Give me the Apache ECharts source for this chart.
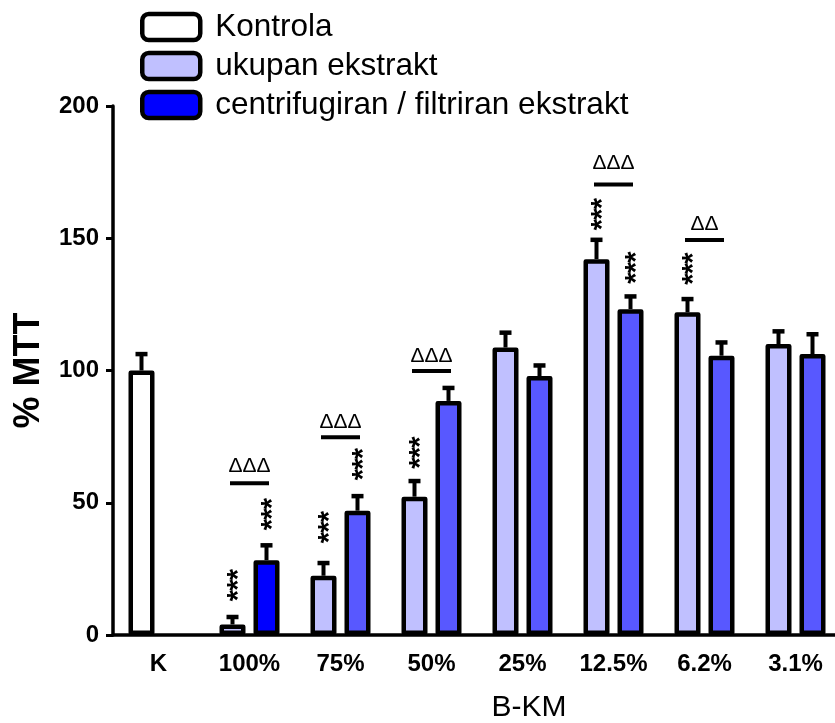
<!DOCTYPE html>
<html>
<head>
<meta charset="utf-8">
<script src="https://cdn.jsdelivr.net/npm/echarts@6/dist/echarts.min.js"></script>
<style>
html,body{margin:0;padding:0;background:#fff;}
#chart{width:835px;height:723px;}
</style>
</head>
<body>
<div id="chart"></div>
<script>
// ---- data ----
const categories = ['K', '100%', '75%', '50%', '25%', '12.5%', '6.2%', '3.1%'];
const seriesNames = ['Kontrola', 'ukupan ekstrakt', 'centrifugiran / filtriran ekstrakt'];
const kontrola    = [100, null, null, null, null, null, null, null];
const kontrolaErr = [6.3, null, null, null, null, null, null, null];
const ukupan      = [null, 4, 22.4, 52.3, 108.7, 142.1, 122, 110];
const ukupanErr   = [null, 2.9, 4.9, 6, 5.7, 7.4, 5.1, 4.9];
const centri      = [null, 28.3, 47, 88.5, 97.9, 123.2, 105.6, 106.2];
const centriErr   = [null, 5.7, 5.6, 5, 4.1, 4.9, 5.1, 7.6];
// significance marks (value position of the "***" stacks)
const starsUkupan = [null, 18.9, 40.8, 69, null, 159.1, 138.5, null];
const starsCentri = [null, 45.7, 64.6, null, null, 138.9, null, null];
const deltaLabels = ['', 'ΔΔΔ', 'ΔΔΔ', 'ΔΔΔ', '', 'ΔΔΔ', 'ΔΔ', ''];
const deltaLineY  = [null, 57.4, 74.8, 99.8, null, 170.3, 149.3, null];
const deltaTextY  = [null, 63.9, 80.6, 105.4, null, 178.3, 155.2, null];
const yTicks = {min: 0, max: 200, interval: 50};

// ---- style ----
const FONT = 'Liberation Sans, Arial, sans-serif';
const BAR_W = 26, BAR_GAP = 8;
const SLOT_OFF = (BAR_W + BAR_GAP) / 2;
const LIGHT = '#C0C0FF', MID = '#5858FF', PURE = '#0000FF';

const dash = v => (v == null ? '-' : v);

function errData() {
  const out = [];
  kontrola.forEach((v, i) => { if (v != null) out.push([i, v, kontrolaErr[i], 0]); });
  ukupan.forEach((v, i) => { if (v != null) out.push([i, v, ukupanErr[i], 0]); });
  centri.forEach((v, i) => { if (v != null) out.push([i, v, centriErr[i], 1]); });
  return out;
}
function starData() {
  const out = [];
  starsUkupan.forEach((v, i) => { if (v != null) out.push([i, v, 0]); });
  starsCentri.forEach((v, i) => { if (v != null) out.push([i, v, 1]); });
  return out;
}
function deltaData() {
  const out = [];
  deltaLineY.forEach((v, i) => { if (v != null) out.push([i, v, deltaTextY[i]]); });
  return out;
}

const barBorder = {borderColor: '#000', borderWidth: 4.5, borderJoin: 'round'};
const gapPct = (BAR_GAP / BAR_W * 100) + '%';

const option = {
  backgroundColor: '#fff',
  animation: false,
  legend: {
    orient: 'vertical',
    left: 135, top: 6,
    itemWidth: 58, itemHeight: 26, itemGap: 7,
    icon: 'roundRect',
    itemStyle: {borderColor: '#000', borderWidth: 4.5},
    textStyle: {fontFamily: FONT, fontSize: 31.5, color: '#000', padding: [0, 0, 0, 10]},
    data: seriesNames
  },
  grid: {left: 113, top: 106, width: 728, height: 529, containLabel: false, outerBoundsMode: 'none'},
  xAxis: {
    type: 'category',
    data: categories,
    boundaryGap: true,
    name: 'B-KM',
    nameLocation: 'middle',
    nameGap: 58,
    nameTextStyle: {fontFamily: FONT, fontSize: 30, color: '#000', padding: [0, 0, 0, 104]},
    axisLine: {lineStyle: {color: '#000', width: 3.5}},
    axisTick: {alignWithLabel: true, length: 7, lineStyle: {color: '#000', width: 3}},
    axisLabel: {fontFamily: FONT, fontSize: 24, fontWeight: 'bold', color: '#000', margin: 17, interval: 0},
    splitLine: {show: false}
  },
  yAxis: {
    type: 'value',
    min: yTicks.min, max: yTicks.max, interval: yTicks.interval,
    name: '% MTT',
    nameLocation: 'middle',
    nameRotate: 90,
    nameGap: 66,
    nameTextStyle: {fontFamily: FONT, fontSize: 36, fontWeight: 'bold', color: '#000'},
    axisLine: {show: true, lineStyle: {color: '#000', width: 3.5}},
    axisTick: {show: true, length: 7, lineStyle: {color: '#000', width: 3}},
    axisLabel: {fontFamily: FONT, fontSize: 24, fontWeight: 'bold', color: '#000', margin: 14},
    splitLine: {show: false}
  },
  series: [
    {
      name: seriesNames[0], type: 'bar', stack: 'a',
      barWidth: BAR_W, barGap: gapPct,
      itemStyle: Object.assign({color: '#fff'}, barBorder),
      data: kontrola.map(dash), z: 3
    },
    {
      name: seriesNames[1], type: 'bar', stack: 'a',
      barWidth: BAR_W, barGap: gapPct,
      itemStyle: Object.assign({color: LIGHT}, barBorder),
      data: ukupan.map(dash), z: 3
    },
    {
      name: seriesNames[2], type: 'bar',
      barWidth: BAR_W, barGap: gapPct,
      itemStyle: Object.assign({color: PURE}, barBorder),
      data: centri.map((v, i) => v == null ? '-' : (i === 1 ? v : {value: v, itemStyle: {color: MID}})),
      z: 3
    },
    {
      type: 'custom', name: 'err', z: 2, silent: true,
      data: errData(),
      encode: {x: 0, y: 1},
      renderItem: function (params, api) {
        const i = api.value(0), v = api.value(1), e = api.value(2), slot = api.value(3);
        const b = api.coord([i, v]);
        const t = api.coord([i, v + e]);
        const x = b[0] + (slot === 0 ? -SLOT_OFF : SLOT_OFF);
        return {
          type: 'group',
          children: [
            {type: 'line', shape: {x1: x, y1: b[1], x2: x, y2: t[1]}, style: {stroke: '#000', lineWidth: 4}},
            {type: 'rect', shape: {x: x - 6, y: t[1] - 2, width: 12, height: 4.5}, style: {fill: '#000'}}
          ]
        };
      }
    },
    {
      type: 'custom', name: 'stars', z: 4, silent: true,
      data: starData(),
      encode: {x: 0, y: 1},
      renderItem: function (params, api) {
        const i = api.value(0), v = api.value(1), slot = api.value(2);
        const c = api.coord([i, v]);
        const x = c[0] + (slot === 0 ? -SLOT_OFF : SLOT_OFF);
        const fs = 29;
        const kids = [];
        for (let k = -1; k <= 1; k++) {
          kids.push({
            type: 'text',
            x: x, y: c[1] + k * 10.5,
            rotation: Math.PI / 2,
            style: {
              x: 0, y: fs * 0.22,
              text: '*', fill: '#000', font: 'bold ' + fs + 'px ' + FONT,
              align: 'center', verticalAlign: 'middle'
            }
          });
        }
        return {type: 'group', children: kids};
      }
    },
    {
      type: 'custom', name: 'delta', z: 4, silent: true,
      data: deltaData(),
      encode: {x: 0, y: 1},
      renderItem: function (params, api) {
        const i = api.value(0), ly = api.value(1), ty = api.value(2);
        const label = deltaLabels[i];
        const l = api.coord([i, ly]);
        const t = api.coord([i, ty]);
        return {
          type: 'group',
          children: [
            {type: 'line', shape: {x1: l[0] - 19.5, y1: l[1], x2: l[0] + 19.5, y2: l[1]}, style: {stroke: '#000', lineWidth: 4}},
            {type: 'text', style: {x: t[0], y: t[1], text: label, fill: '#000', font: '21px ' + FONT, align: 'center', verticalAlign: 'middle'}}
          ]
        };
      }
    }
  ]
};

const chart = echarts.init(document.getElementById('chart'), null, {renderer: 'canvas'});
chart.setOption(option);
</script>
</body>
</html>
